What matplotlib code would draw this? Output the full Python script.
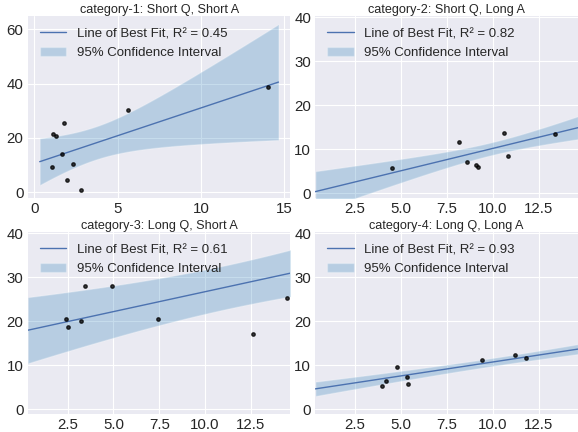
import numpy as np
import matplotlib
matplotlib.use('Agg')
import matplotlib.pyplot as plt

plt.style.use('seaborn-v0_8-darkgrid')
plt.rcParams['font.family'] = ['Liberation Sans', 'DejaVu Sans']

# data
titles = ['category-1: Short Q, Short A', 'category-2: Short Q, Long A',
          'category-3: Long Q, Short A', 'category-4: Long Q, Long A']
r2_values = [0.45, 0.82, 0.61, 0.93]

x1 = [1.05, 1.13, 1.29, 1.80, 1.65, 2.34, 1.94, 2.80, 5.60, 14.0]
y1 = [9.2, 21.4, 20.8, 25.6, 14.1, 10.3, 4.65, 1.0, 30.2, 38.7]

x2 = [4.52, 8.17, 8.61, 9.11, 9.20, 10.59, 10.83, 13.37]
y2 = [5.8, 11.7, 7.0, 6.3, 6.0, 13.6, 8.4, 13.4]

x3 = [2.41, 2.52, 3.25, 3.44, 4.94, 7.45, 12.61, 14.48]
y3 = [20.5, 18.6, 20.1, 28.1, 27.9, 20.4, 17.0, 25.3]

x4 = [3.98, 4.17, 4.80, 5.33, 5.37, 9.43, 11.24, 11.80]
y4 = [5.3, 6.3, 9.6, 7.4, 5.7, 11.1, 12.2, 11.6]

xs = [x1, x2, x3, x4]
ys = [y1, y2, y3, y4]

# fitted lines as shown (intercept, slope)
intercepts = [10.6, -0.0, 17.63, 4.38]
slopes = [2.043, 1.016, 0.907, 0.632]

# confidence band as shown: narrowest at band_center with half width band_min,
# widening by band_growth per unit of x
band_center = [3.62, 9.95, 11.2, 10.0]
band_min = [6.08, 1.46, 5.0, 0.92]
band_growth = [1.847, 0.458, 0.517, 0.139]

# range the fitted line is drawn over
fit_lo, fit_hi = 0.33, 14.65

fig, axes = plt.subplots(2, 2, figsize=(5.78, 4.32), dpi=100)
fig.subplots_adjust(left=0.048, right=1.0, top=0.963, bottom=0.042,
                    wspace=0.095, hspace=0.187)

for i, ax in enumerate(axes.flat):
    xf = np.linspace(fit_lo, fit_hi, 200)
    yf = intercepts[i] + slopes[i] * xf
    half = np.sqrt(band_min[i] ** 2 + (band_growth[i] * (xf - band_center[i])) ** 2)

    ax.plot(xf, yf, color='#4C72B0', lw=1.0,
            label=f'Line of Best Fit, R\u00b2 = {r2_values[i]:.2f}')
    ax.fill_between(xf, yf - half, yf + half, color='#1f77b4', alpha=0.25,
                    edgecolor='white', linewidth=1.0,
                    label='95% Confidence Interval')
    ax.scatter(xs[i], ys[i], s=6, color='black', alpha=0.75, zorder=3)

    ax.set_title(titles[i], fontsize=9.1, pad=2, color='#262626')
    ax.tick_params(labelsize=10.8, colors='#262626', pad=3)
    ax.legend(loc='upper left', fontsize=9.5, frameon=False)

    if i == 0:
        ax.set_xticks([0, 5, 10, 15])
        ax.set_yticks([0, 20, 40, 60])
    else:
        ax.set_xlim(fit_lo, fit_hi)
        ax.set_ylim(-1.1, 40.3)
        ax.set_xticks([2.5, 5.0, 7.5, 10.0, 12.5])
        ax.set_yticks([0, 10, 20, 30, 40])

plt.savefig('out.png', dpi=100)
